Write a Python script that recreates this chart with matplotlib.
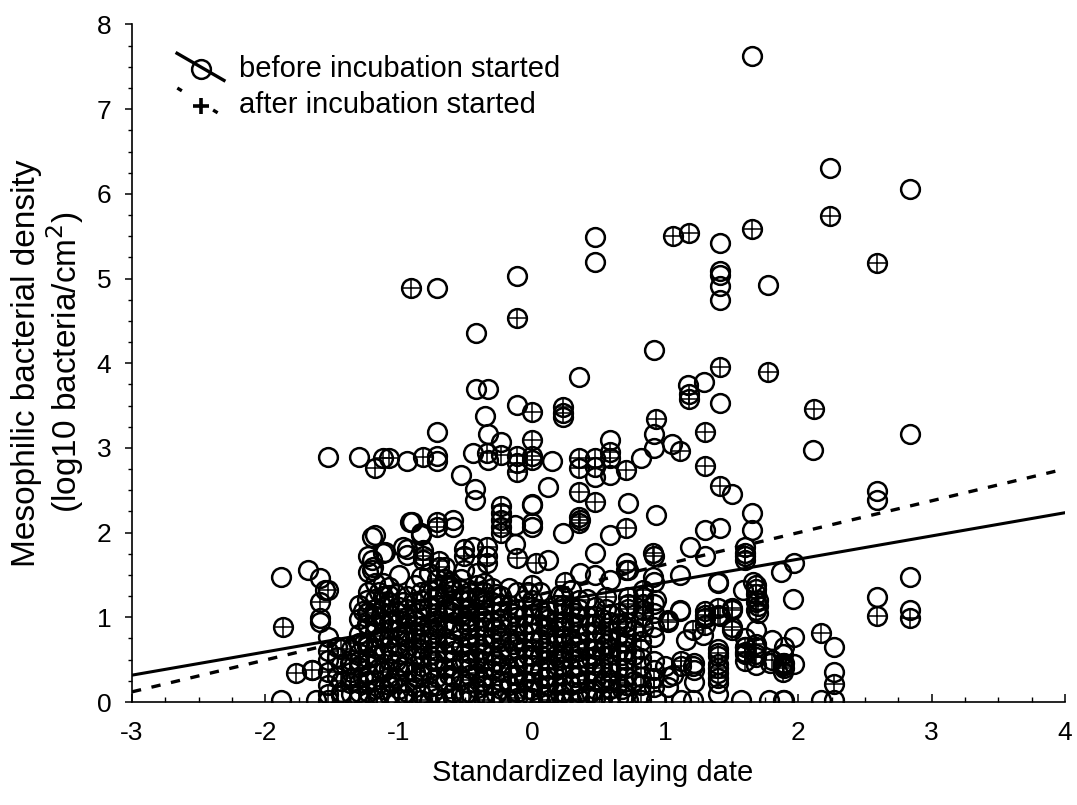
import numpy as np
import matplotlib
matplotlib.use("Agg")
import matplotlib.pyplot as plt
from matplotlib.ticker import MultipleLocator

plt.rcParams['font.family'] = ['Liberation Sans', 'DejaVu Sans']
plt.rcParams['axes.unicode_minus'] = False

# ---------------- data ----------------
# "before incubation started" (open circles), sparse points (x, y)
before_upper = [
    (1.65, 7.63), (2.24, 6.30), (2.84, 6.06), (0.47, 5.49), (0.47, 5.20),
    (1.41, 5.42), (1.41, 5.09), (1.41, 5.04), (1.41, 4.91), (1.41, 4.75),
    (1.77, 4.92), (-0.71, 4.89), (-0.11, 5.03), (-0.42, 4.36), (0.92, 4.16),
    (0.355, 3.84), (-0.42, 3.70), (-0.33, 3.70), (1.29, 3.78), (1.17, 3.74),
    (1.41, 3.53), (-0.11, 3.51), (0.235, 3.37), (-0.35, 3.38), (-0.715, 3.19),
    (-0.33, 3.17), (-0.23, 3.07), (0.92, 3.17), (0.92, 3.00), (1.05, 3.05),
    (2.11, 2.98), (2.84, 3.16), (0.585, 3.09),
]
before_mid = [
    (-1.53, 2.89), (-1.30, 2.89), (-0.94, 2.84), (-0.715, 2.90), (-0.715, 2.84),
    (-0.44, 2.94), (-0.33, 2.86), (0.15, 2.84), (0.47, 2.66), (0.585, 2.68),
    (0.82, 2.88), (-0.53, 2.68), (-0.43, 2.52), (-0.43, 2.38), (0.0, 2.33),
    (0.12, 2.54), (0.72, 2.35), (0.935, 2.21), (1.50, 2.46), (1.65, 2.23),
    (1.65, 2.03), (2.59, 2.49), (2.59, 2.38), (-0.915, 2.13), (-0.59, 2.15),
    (-0.59, 2.07), (-1.18, 1.97), (-0.83, 1.99), (-0.13, 2.09), (-0.13, 1.87),
    (0.0, 2.07), (0.235, 1.99), (0.585, 1.97), (1.30, 2.03), (1.41, 2.05),
    (1.185, 1.83), (1.30, 1.72), (1.11, 1.50), (1.40, 1.42), (1.87, 1.54),
    (1.97, 1.64), (1.66, 1.42), (1.68, 1.34), (1.70, 1.20), (1.70, 1.05),
    (1.96, 1.22), (1.585, 1.32), (0.92, 1.42), (0.71, 1.64), (0.47, 1.76),
    (0.12, 1.68), (0.36, 1.52), (0.47, 1.50), (0.585, 1.44), (1.60, 1.83),
    (1.60, 1.68), (1.40, 1.40), (0.91, 1.48), (0.935, 1.20), (1.11, 1.09),
    (0.92, 1.16), (0.92, 1.05), (1.11, 1.07), (1.16, 0.73), (1.285, 0.79),
    (0.71, 1.56), (0.0, 2.11), (0.0, 2.34),
]
before_right = [
    (2.84, 1.48), (2.59, 1.24), (2.84, 1.09), (1.97, 0.77), (2.27, 0.65),
    (2.27, 0.35), (2.27, 0.02), (2.17, 0.02), (1.97, 0.45), (1.89, 0.65),
    (1.89, 0.46), (1.89, 0.02), (1.40, 0.63), (1.40, 0.54), (1.40, 0.45),
    (1.40, 0.22), (1.40, 0.34), (1.40, 0.10), (1.60, 0.75), (1.60, 0.65),
    (1.68, 0.65), (1.68, 0.44), (1.68, 0.85), (1.68, 0.57), (1.785, 0.46),
    (1.80, 0.73), (1.885, 0.57), (1.21, 0.42), (1.06, 0.32), (1.00, 0.42),
    (1.22, 0.46), (1.22, 0.38), (1.22, 0.24), (0.92, 0.89), (0.92, 0.77),
    (0.92, 0.48), (0.92, 0.38), (1.02, 0.30), (1.02, 0.18), (1.57, 0.02),
    (1.78, 0.02), (1.885, 0.02), (0.935, 0.02), (1.21, 0.02), (0.72, 0.02),
    (0.82, 0.02), (1.12, 0.02),
]
before_left = [
    (-1.88, 1.48), (-1.68, 1.56), (-1.59, 1.46), (-1.55, 1.32), (-1.59, 0.99),
    (-1.59, 0.95), (-1.53, 0.77), (-1.65, 0.38), (-1.88, 0.02), (-1.62, 0.02),
    (-1.53, 0.02), (-1.465, 0.65), (-1.465, 0.53), (-1.465, 0.30), (-1.365, 0.22),
    (-1.365, 0.46), (-1.20, 1.95), (-1.115, 1.76), (-1.23, 1.72), (-1.19, 1.60),
    (-1.23, 1.54), (-1.00, 1.50), (-0.965, 1.83), (-0.94, 1.74), (-1.10, 1.77),
    (-1.20, 1.68), (-1.20, 1.56), (-0.90, 2.13), (-0.83, 1.97), (-0.94, 1.81),
    (-0.83, 1.48), (-1.115, 1.40), (-0.615, 1.42), (-0.615, 1.36), (-0.51, 1.56),
    (-0.44, 1.83), (-0.415, 1.24),
]
# dense block: (column x, [y values])
before_dense = [
    (-1.53, [0.20, 0.50]), (-1.43, [0.08, 0.45, 0.12]),
    (-1.30, [0.05, 0.22, 0.41, 0.58, 0.80, 0.98, 1.15]),
    (-1.23, [0.12, 0.33, 0.52, 0.70, 0.88, 1.06, 1.30]),
    (-1.18, [0.02, 0.26, 0.45, 0.64, 0.83, 1.02, 1.22, 1.40]),
    (-1.07, [0.08, 0.30, 0.50, 0.66, 0.86, 1.04, 1.18, 1.36]),
    (-1.00, [0.15, 0.38, 0.57, 0.78, 0.95, 1.12]),
    (-0.94, [0.03, 0.24, 0.46, 0.62, 0.84, 1.00, 1.25]),
    (-0.83, [0.10, 0.33, 0.52, 0.70, 0.90, 1.10, 1.30]),
    (-0.715, [0.05, 0.20, 0.42, 0.60, 0.80, 0.97, 1.15, 1.33]),
    (-0.59, [0.12, 0.30, 0.50, 0.68, 0.86, 1.05, 1.20]),
    (-0.47, [0.02, 0.22, 0.40, 0.58, 0.76, 0.95, 1.10, 1.30]),
    (-0.36, [0.10, 0.30, 0.48, 0.68, 0.88, 1.06, 1.40]),
    (-0.23, [0.04, 0.25, 0.44, 0.62, 0.80, 0.98, 1.15]),
    (-0.115, [0.12, 0.32, 0.52, 0.72, 0.90, 1.10, 1.30]),
    (0.00, [0.05, 0.24, 0.44, 0.62, 0.82, 1.04, 1.20]),
    (0.12, [0.10, 0.30, 0.50, 0.70, 0.88, 1.08]),
    (0.235, [0.03, 0.22, 0.42, 0.60, 0.78, 0.96, 1.15]),
    (0.35, [0.12, 0.32, 0.52, 0.70, 0.92, 1.10]),
    (0.47, [0.05, 0.25, 0.44, 0.62, 0.84, 1.02]),
    (0.585, [0.15, 0.36, 0.55, 0.74, 0.94]),
    (0.71, [0.10, 0.30, 0.50, 0.70, 0.88]),
    (0.82, [0.20, 0.42, 0.62]),
]
before_dense_between = [
    (-1.36, [0.10, 0.35, 0.62]),
    (-1.24, [0.00, 0.45, 0.92, 1.20]),
    (-1.12, [0.15, 0.58, 0.95, 1.25]),
    (-1.02, [0.05, 0.48, 0.85, 1.28]),
    (-0.88, [0.18, 0.55, 0.96, 1.38]),
    (-0.77, [0.00, 0.36, 0.74, 1.12, 1.52]),
    (-0.65, [0.22, 0.58, 0.92, 1.28, 1.60]),
    (-0.53, [0.08, 0.46, 0.84, 1.20, 1.45]),
    (-0.41, [0.16, 0.52, 0.88, 1.24, 1.52]),
    (-0.30, [0.00, 0.38, 0.75, 1.18]),
    (-0.17, [0.20, 0.58, 0.95, 1.35]),
    (-0.06, [0.08, 0.45, 0.82, 1.20]),
    (0.06, [0.18, 0.56, 0.92, 1.30]),
    (0.18, [0.00, 0.38, 0.76, 1.15]),
    (0.29, [0.20, 0.58, 0.95, 1.32]),
    (0.41, [0.08, 0.46, 0.82, 1.22]),
    (0.53, [0.22, 0.60, 0.98]),
    (0.65, [0.05, 0.40, 0.78, 1.05]),
    (0.77, [0.25, 0.55, 0.85]),
]
before_dense_fill = [
    (-1.27, [0.30, 0.68, 1.08]),
    (-1.15, [0.08, 0.40, 0.75, 1.30]),
    (-1.05, [0.22, 0.58, 0.96]),
    (-0.97, [0.10, 0.42, 0.80, 1.18]),
    (-0.86, [0.28, 0.64, 1.05]),
    (-0.74, [0.12, 0.48, 0.86, 1.22]),
    (-0.62, [0.32, 0.70, 1.08, 1.38]),
    (-0.50, [0.10, 0.48, 0.92, 1.25]),
    (-0.38, [0.25, 0.62, 1.00, 1.22]),
    (-0.27, [0.10, 0.48, 0.86, 1.28]),
    (-0.14, [0.32, 0.68, 1.05]),
    (-0.03, [0.15, 0.55, 0.92, 1.30]),
    (0.09, [0.28, 0.64, 1.02]),
    (0.21, [0.10, 0.50, 0.88, 1.26]),
    (0.32, [0.30, 0.66, 1.05]),
    (0.44, [0.12, 0.52, 0.92]),
    (0.56, [0.30, 0.68, 1.10]),
    (0.68, [0.15, 0.55, 0.92]),
]

# "after incubation started" (circle with cross)
after_upper = [
    (2.24, 5.74), (2.59, 5.18), (2.12, 3.46), (1.65, 5.58), (1.06, 5.50),
    (1.18, 5.54), (-0.91, 4.89), (-0.11, 4.53), (1.41, 3.96), (1.77, 3.90),
    (1.18, 3.64), (1.18, 3.58), (0.0, 3.43), (0.235, 3.48), (0.235, 3.41),
    (0.935, 3.34), (1.30, 3.19), (1.11, 2.96), (1.30, 2.79), (1.41, 2.55),
    (0.0, 3.09),
]
after_mid = [
    (-1.18, 2.76), (-1.12, 2.88), (-1.07, 2.88), (-0.815, 2.89), (-0.34, 2.94),
    (-0.23, 2.92), (-0.115, 2.90), (-0.115, 2.82), (-0.115, 2.72), (0.0, 2.90),
    (0.0, 2.86), (0.35, 2.88), (0.35, 2.76), (0.47, 2.88), (0.47, 2.78),
    (0.585, 2.95), (0.585, 2.88), (0.71, 2.74), (-0.23, 2.31), (-0.23, 2.23),
    (-0.23, 2.15), (-0.23, 2.07), (-0.23, 1.99), (-0.715, 2.13), (-0.715, 2.07),
    (0.35, 2.48), (0.47, 2.36), (0.35, 2.19), (0.35, 2.11), (0.71, 2.05),
    (0.36, 2.15), (-0.815, 1.79), (-0.815, 1.72), (-0.815, 1.68), (-0.70, 1.66),
    (-0.70, 1.60), (-0.51, 1.81), (-0.51, 1.72), (-0.34, 1.83), (-0.34, 1.72),
    (-0.34, 1.64), (-0.115, 1.70), (0.03, 1.64), (0.0, 1.38), (0.25, 1.42),
    (0.91, 1.76), (0.92, 1.72), (1.60, 1.76), (1.60, 1.72), (1.68, 1.28),
    (1.70, 1.13), (0.72, 1.56),
]
after_right = [
    (0.56, 1.24), (0.72, 1.24), (0.72, 1.16), (0.72, 1.10), (0.835, 1.32),
    (0.835, 1.24), (0.835, 1.16), (0.835, 1.09), (0.835, 1.01), (0.835, 0.89),
    (1.02, 0.95), (1.21, 0.85), (1.30, 1.03), (1.41, 1.01), (1.50, 1.11),
    (1.50, 0.85), (1.40, 0.58), (1.40, 0.40), (1.40, 0.28), (1.60, 0.57),
    (1.60, 0.48), (1.885, 0.44), (1.12, 0.42), (1.02, 0.97), (1.30, 1.07),
    (1.30, 0.99), (1.30, 0.91), (1.40, 1.03), (1.40, 1.11), (1.50, 1.09),
    (1.50, 0.89), (1.60, 0.65), (1.60, 0.59), (1.68, 0.69), (1.68, 0.53),
    (1.80, 0.50), (1.885, 0.46), (1.885, 0.42), (1.885, 0.36), (1.12, 0.48),
    (0.92, 0.28), (0.92, 0.18), (1.68, 1.38), (1.68, 1.18), (1.68, 1.09),
    (2.17, 0.82), (2.27, 0.21), (2.59, 1.01), (2.84, 0.99), (1.89, 0.40),
]
after_left = [
    (-1.87, 0.89), (-1.53, 1.32), (-1.59, 1.18), (-1.77, 0.34), (-1.65, 0.38),
]
after_dense = [
    (-1.53, [0.10, 0.35, 0.60]), (-1.43, [0.25, 0.62]),
    (-1.30, [0.12, 0.48, 0.70]),
    (-1.18, [0.15, 0.55, 0.92, 1.10]),
    (-1.07, [0.20, 0.40, 0.75, 0.95, 1.26]),
    (-0.94, [0.12, 0.35, 0.72, 0.92, 1.10]),
    (-0.83, [0.02, 0.42, 0.62, 0.80, 1.20]),
    (-0.715, [0.30, 0.50, 0.70, 0.88, 1.05, 1.25, 1.45]),
    (-0.59, [0.05, 0.40, 0.60, 0.95, 1.12, 1.32]),
    (-0.47, [0.12, 0.32, 0.50, 0.68, 0.86, 1.02, 1.20]),
    (-0.36, [0.02, 0.20, 0.40, 0.58, 0.78, 0.96, 1.15, 1.30]),
    (-0.23, [0.15, 0.35, 0.54, 0.72, 0.90, 1.08, 1.25]),
    (-0.115, [0.05, 0.22, 0.42, 0.62, 0.80, 1.00]),
    (0.00, [0.14, 0.34, 0.54, 0.72, 0.92, 1.12]),
    (0.12, [0.02, 0.20, 0.40, 0.60, 0.80, 0.98]),
    (0.235, [0.12, 0.32, 0.52, 0.70, 0.88, 1.05, 1.25]),
    (0.35, [0.03, 0.22, 0.42, 0.60, 0.80, 1.00, 1.20]),
    (0.47, [0.15, 0.35, 0.54, 0.72, 0.92, 1.12]),
    (0.585, [0.06, 0.26, 0.45, 0.64, 0.84, 1.04]),
    (0.71, [0.20, 0.40, 0.60, 0.78, 0.95]),
    (0.82, [0.10, 0.30, 0.52, 0.72]),
]
after_dense_between = [
    (-1.36, [0.28, 0.50]),
    (-1.24, [0.25, 0.66, 1.05]),
    (-1.12, [0.35, 0.78, 1.12]),
    (-1.02, [0.28, 0.66, 1.06]),
    (-0.88, [0.36, 0.76, 1.18]),
    (-0.77, [0.18, 0.55, 0.92, 1.32]),
    (-0.65, [0.05, 0.40, 0.76, 1.10, 1.45]),
    (-0.53, [0.26, 0.65, 1.02, 1.32]),
    (-0.41, [0.34, 0.70, 1.06, 1.38]),
    (-0.30, [0.20, 0.56, 0.95, 1.35]),
    (-0.17, [0.02, 0.40, 0.76, 1.15]),
    (-0.06, [0.26, 0.64, 1.02]),
    (0.06, [0.00, 0.38, 0.74, 1.10]),
    (0.18, [0.20, 0.56, 0.95]),
    (0.29, [0.02, 0.40, 0.76, 1.12]),
    (0.41, [0.26, 0.64, 1.02]),
    (0.53, [0.04, 0.40, 0.80]),
    (0.65, [0.22, 0.60, 0.92]),
]

# fitted regression lines: (intercept, slope)
fit_before = (1.139, 0.274)
fit_after = (1.248, 0.376)

x_ticks = [-3, -2, -1, 0, 1, 2, 3, 4]
y_ticks = [0, 1, 2, 3, 4, 5, 6, 7, 8]
x_label = "Standardized laying date"
y_label_1 = "Mesophilic bacterial density"
y_label_2 = "(log10 bacteria/cm$^{2}$)"
legend_labels = ["before incubation started", "after incubation started"]


def flatten(pairs, *col_sets):
    xs = [p[0] for p in pairs]
    ys = [p[1] for p in pairs]
    for cols in col_sets:
        for cx, cys in cols:
            xs += [cx] * len(cys)
            ys += list(cys)
    return np.array(xs), np.array(ys)


bx, by = flatten(before_upper + before_mid + before_right + before_left,
                 before_dense, before_dense_between, before_dense_fill)
axx, axy = flatten(after_upper + after_mid + after_right + after_left,
                   after_dense, after_dense_between)

# ---------------- figure ----------------
W, H = 1077, 805
fig = plt.figure(figsize=(W / 100, H / 100), dpi=100)
ax = fig.add_axes([132 / W, (H - 702) / H, (1065 - 132) / W, (702 - 24.5) / H])
ax.set_xlim(-3, 4)
ax.set_ylim(0, 8)
for s in ["top", "right"]:
    ax.spines[s].set_visible(False)
for s in ["left", "bottom"]:
    ax.spines[s].set_linewidth(1.2)
    ax.spines[s].set_zorder(6)

ms = 13.5
ax.plot(bx, by, 'o', ms=ms, mfc='none', mec='black', mew=1.8, zorder=3)
ax.plot(axx, axy, 'o', ms=ms, mfc='none', mec='black', mew=1.8, zorder=3)
ax.plot(axx, axy, '+', ms=ms, mec='black', mew=1.1, zorder=3)

xl = np.array([-3, 4])
ax.plot(xl, fit_before[0] + fit_before[1] * xl, '-', color='black', lw=2.2, zorder=4)
ax.plot(xl, fit_after[0] + fit_after[1] * xl, '--', color='black', lw=2.4,
        dashes=(2.8, 3.2), zorder=4)

ax.set_xticks(x_ticks)
ax.set_yticks(y_ticks)
ax.xaxis.set_minor_locator(MultipleLocator(0.25))
ax.yaxis.set_minor_locator(MultipleLocator(0.25))
ax.tick_params(axis='x', which='major', direction='in', length=6, width=1.1,
               labelsize=19, pad=14)
ax.tick_params(axis='x', which='minor', direction='in', length=3.5, width=1.0)
ax.tick_params(axis='y', which='major', direction='out', length=5, width=1.1,
               labelsize=19, pad=10)
ax.tick_params(axis='y', which='minor', direction='out', length=3, width=1.0)

fig.text(593 / W, 1 - 773 / H, x_label, fontsize=21, ha='center', va='center')
fig.text(27 / W, 1 - 363 / H, y_label_1, rotation=90, fontsize=24,
         ha='center', va='center')
fig.text(65 / W, 1 - 362 / H, y_label_2, rotation=90, fontsize=24,
         ha='center', va='center')

# legend drawn Statistica-style (diagonal line samples)
ax.plot([-2.662, -2.31], [7.66, 7.34], '-', color='black', lw=2.4, zorder=5)
ax.plot([-2.482], [7.48], 'o', ms=ms, mfc='none', mec='black', mew=1.8, zorder=5)
ax.plot([-2.66, -2.35], [7.25, 6.95], '--', color='black', lw=2.4,
        dashes=(1.6, 11), zorder=5)
ax.plot([-2.482], [7.04], '+', ms=12, mec='black', mew=2.6, zorder=5)
ax.text(-2.197, 7.48, legend_labels[0], fontsize=21, va='center', ha='left')
ax.text(-2.197, 7.05, legend_labels[1], fontsize=21, va='center', ha='left')

fig.savefig("out.png", dpi=100)
